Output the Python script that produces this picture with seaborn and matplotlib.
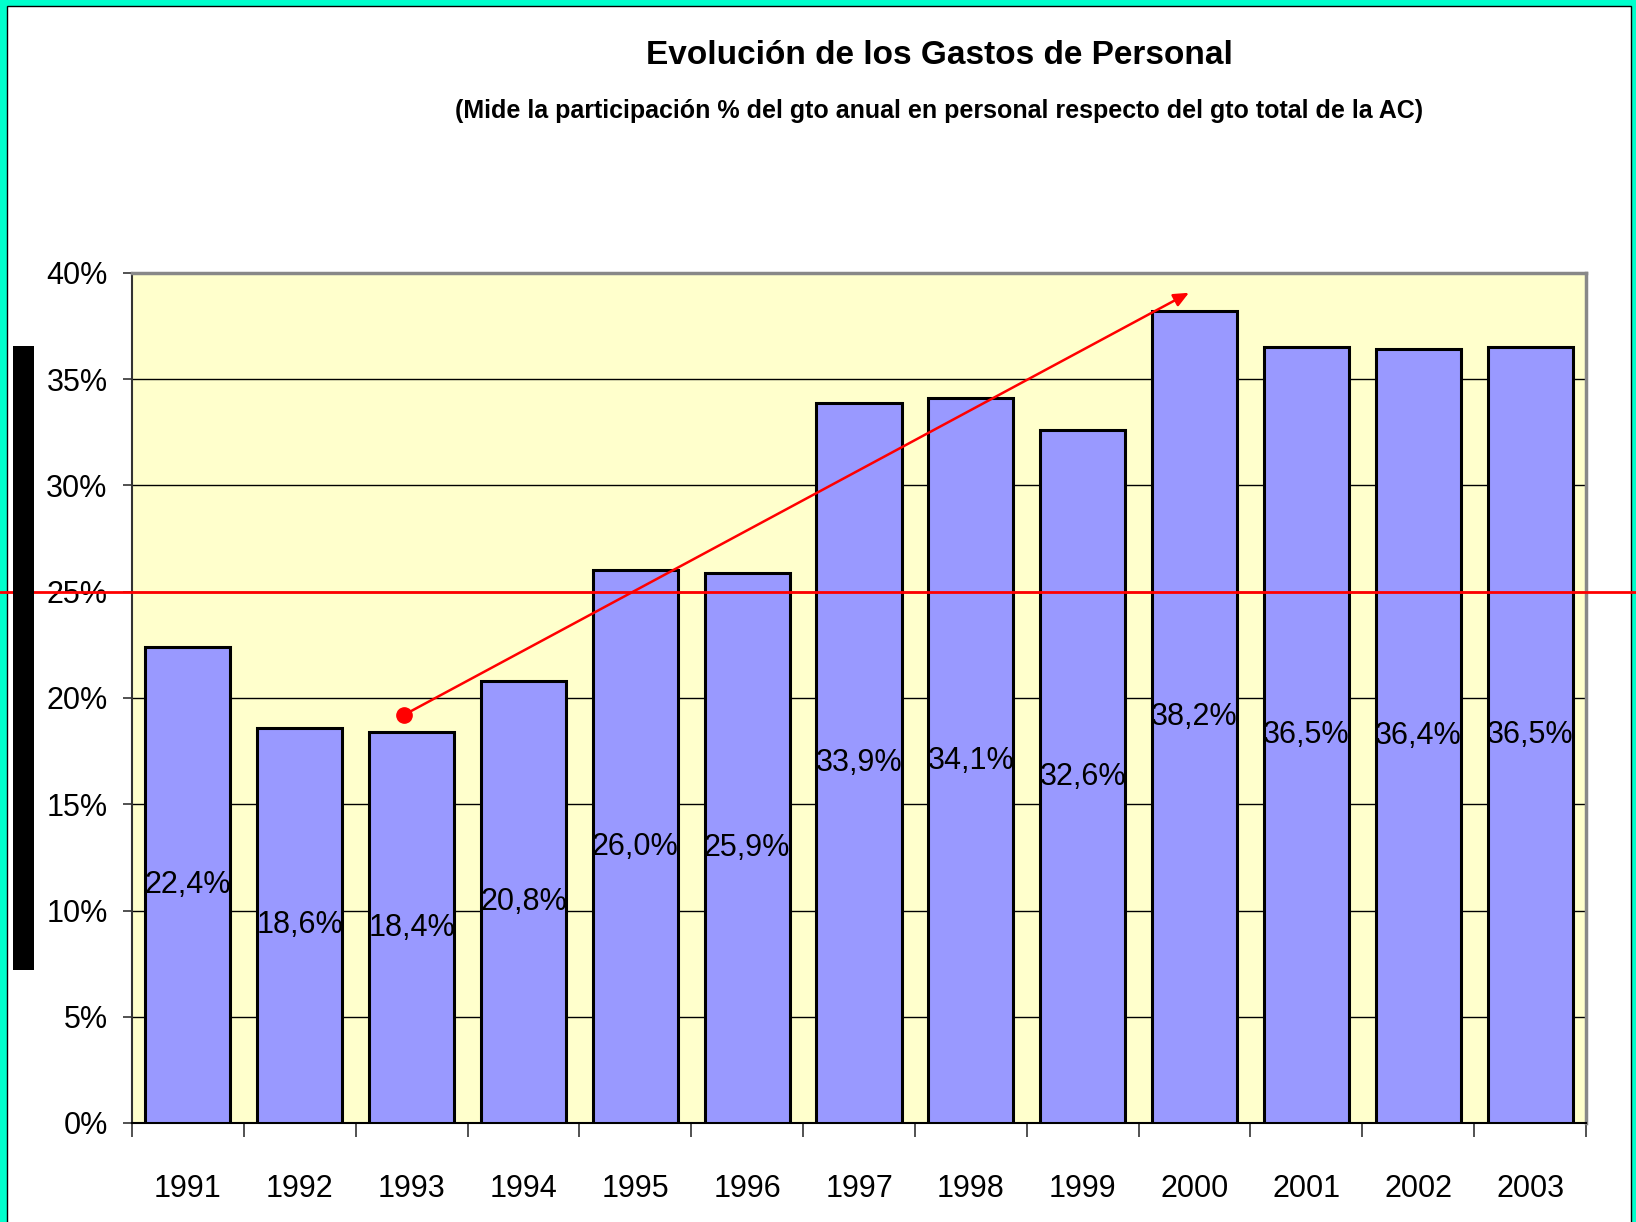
import matplotlib
matplotlib.use("Agg")
import matplotlib.pyplot as plt
import matplotlib.transforms as mtransforms
from matplotlib.patches import Rectangle
from matplotlib.lines import Line2D
from matplotlib.ticker import FuncFormatter, FixedLocator, MultipleLocator
import seaborn as sns
import pandas as pd

years = ["1991", "1992", "1993", "1994", "1995", "1996", "1997",
         "1998", "1999", "2000", "2001", "2002", "2003"]
values = [22.4, 18.6, 18.4, 20.8, 26.0, 25.9, 33.9, 34.1, 32.6, 38.2, 36.5, 36.4, 36.5]
title = "Evolución de los Gastos de Personal"
subtitle = "(Mide la participación % del gto anual en personal respecto del gto total de la AC)"
ref_level = 25.0
trend_start = (1.93, 19.2)
trend_end = (8.95, 39.07)

sns.set_style("white")
FONT = ["Liberation Sans", "DejaVu Sans"]
plt.rcParams["font.family"] = FONT
plt.rcParams["text.color"] = "black"
plt.rcParams["xtick.color"] = "black"
plt.rcParams["ytick.color"] = "black"
plt.rcParams["xtick.labelcolor"] = "black"
plt.rcParams["ytick.labelcolor"] = "black"

df = pd.DataFrame({"year": years, "value": values})

fig = plt.figure(figsize=(16.36, 12.22), dpi=100, facecolor="#00FFCC")
W, H = 1636, 1222
# white panel inside teal frame
fig.patches.append(Rectangle((7 / W, -0.05), (1631 - 7) / W, 1.05 - 6 / H,
                             transform=fig.transFigure, facecolor="white",
                             edgecolor="black", lw=1, zorder=-10))
# black bar on left
fig.patches.append(Rectangle((12.5 / W, 1 - 970 / H), 21 / W, (970 - 346) / H,
                             transform=fig.transFigure, facecolor="black",
                             edgecolor="none", zorder=1))

ax = fig.add_axes([132 / W, 1 - 1123 / H, (1586 - 132) / W, (1123 - 273) / H])
ax.set_facecolor("#FFFFCC")

sns.barplot(data=df, x="year", y="value", color="#9999FF", saturation=1,
            width=0.76, edgecolor="black", linewidth=2.2, ax=ax, zorder=3)

ax.set_ylim(0, 40)
ax.set_xlim(-0.5, len(years) - 0.5)
ax.yaxis.set_major_locator(MultipleLocator(5))
ax.yaxis.set_major_formatter(FuncFormatter(lambda v, p: f"{v:.0f}%"))
ax.grid(axis="y", color="black", lw=1, zorder=0)
ax.set_axisbelow(True)
ax.set_xlabel("")
ax.set_ylabel("")

for s in ["top", "right"]:
    ax.spines[s].set_color("#888888")
    ax.spines[s].set_linewidth(2.5)
ax.spines["left"].set_color("#333333")
ax.spines["left"].set_linewidth(1.5)
ax.spines["bottom"].set_color("black")
ax.spines["bottom"].set_linewidth(1.5)

ax.xaxis.set_minor_locator(FixedLocator([i - 0.5 for i in range(len(years) + 1)]))
ax.tick_params(axis="x", which="major", length=0, pad=37, labelsize=22)
ax.tick_params(axis="x", which="minor", length=10, width=1.2, color="#333333",
               direction="out", bottom=True)
ax.tick_params(axis="y", length=6.5, width=1.2, color="#333333", direction="out",
               pad=11, labelsize=22, left=True)

labels = [f"{v:.1f}".replace(".", ",") + "%" for v in values]
ax.bar_label(ax.containers[0], labels=labels, label_type="center", fontsize=22,
             color="black")

# red reference line across whole figure
trans = mtransforms.blended_transform_factory(fig.transFigure, ax.transData)
ax.add_line(Line2D([0, 1], [ref_level, ref_level], transform=trans, color="red",
                   lw=2, clip_on=False, zorder=10))

# trend arrow
ax.annotate("", xy=trend_end, xytext=trend_start,
            arrowprops=dict(arrowstyle="-|>,head_length=0.9,head_width=0.4",
                            color="red", lw=1.8, shrinkA=0, shrinkB=0), zorder=9)
ax.plot([trend_start[0]], [trend_start[1]], "o", color="red", ms=11, zorder=9)

fig.text(939 / W, 1 - 55 / H, title, ha="center", va="center",
         fontsize=24, fontweight="bold", color="black")
fig.text(939 / W, 1 - 111 / H, subtitle, ha="center", va="center",
         fontsize=18, fontweight="bold", color="black")

fig.savefig("out.png", dpi=100, facecolor=fig.get_facecolor())
